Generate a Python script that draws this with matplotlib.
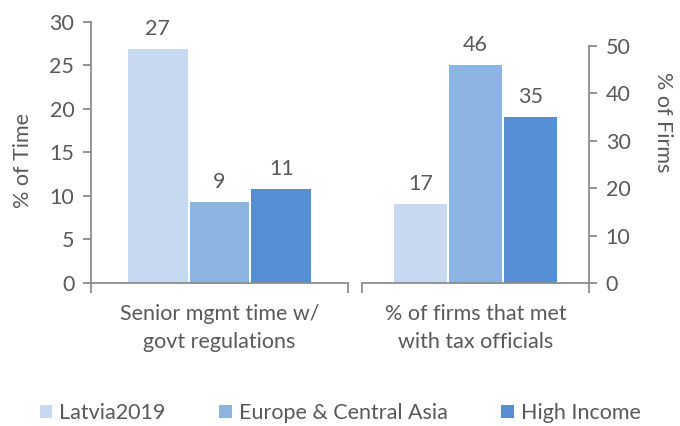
import matplotlib
matplotlib.use("Agg")
import matplotlib.pyplot as plt
from matplotlib.patches import Patch

plt.rcParams['font.family'] = ['Lato', 'DejaVu Sans']

series = ["Latvia2019", "Europe & Central Asia", "High Income"]
colors = ["#C6D9F0", "#8DB3E2", "#558ED5"]
cat_left = "Senior mgmt time w/\ngovt regulations"
cat_right = "% of firms that met\nwith tax officials"
vals_left = [26.9, 9.3, 10.8]
vals_right = [16.6, 45.9, 35.0]
labels_left = ["27", "9", "11"]
labels_right = ["17", "46", "35"]
left_ticks = [0, 5, 10, 15, 20, 25, 30]
right_ticks = [0, 10, 20, 30, 40, 50]

txt = "#595959"
axc = "#8C8C8C"
fs = 15.5

W, H = 680, 426
fig = plt.figure(figsize=(W / 100, H / 100), dpi=100)

def fr(x0, x1, ytop, ybot):
    return [x0 / W, (H - ybot) / H, (x1 - x0) / W, (ybot - ytop) / H]

axL = fig.add_axes(fr(91, 348, 21.7, 283))
axR = fig.add_axes(fr(362, 589, 45.7, 283))

bw = 0.233
offs = [-bw - 0.008, 0, bw + 0.008]

def draw(ax, vals, labels, ymax, ticks, cat, side):
    for i, (v, c, lab) in enumerate(zip(vals, colors, labels)):
        ax.bar(offs[i], v, width=bw, color=c, zorder=2)
        ax.annotate(lab, (offs[i], v), xytext=(0, 7), textcoords="offset points",
                    ha="center", va="bottom", fontsize=fs, color=txt)
    ax.set_xlim(-0.5, 0.5)
    ax.set_ylim(0, ymax)
    ax.set_yticks(ticks)
    ax.set_xticks([-0.5, 0.5])
    ax.set_xticklabels(["", ""])
    ax.tick_params(axis="x", direction="out", length=7, color=axc, width=1.3)
    ax.tick_params(axis="y", direction="out", length=6, color=axc, width=1.3,
                   labelsize=fs, labelcolor=txt, pad=6)
    for s in ["top", "left", "right", "bottom"]:
        ax.spines[s].set_visible(False)
    ax.spines["bottom"].set_visible(True)
    ax.spines["bottom"].set_color(axc)
    ax.spines["bottom"].set_linewidth(1.3)
    if side == "left":
        ax.spines["left"].set_visible(True)
        ax.spines["left"].set_color(axc)
        ax.spines["left"].set_linewidth(1.3)
    else:
        ax.yaxis.tick_right()
        ax.spines["right"].set_visible(True)
        ax.spines["right"].set_color(axc)
        ax.spines["right"].set_linewidth(1.3)
    ax.patch.set_alpha(0)
    x0, x1 = ax.get_position().x0, ax.get_position().x1
    fig.text((x0 + x1) / 2, (H - 328) / H, cat, ha="center", va="center",
             fontsize=fs, color=txt, linespacing=1.45)

draw(axL, vals_left, labels_left, 30, left_ticks, cat_left, "left")
draw(axR, vals_right, labels_right, 50, right_ticks, cat_right, "right")

fig.text(23 / W, (H - 160) / H, "% of Time", rotation=90, ha="center", va="center",
         fontsize=fs, color=txt)
fig.text(663 / W, (H - 122) / H, "% of Firms", rotation=270, ha="center", va="center",
         fontsize=fs, color=txt)

handles = [Patch(facecolor=c, edgecolor="none") for c in colors]
fig.legend(handles, series, loc="center", bbox_to_anchor=(0.5, (H - 413) / H),
           ncol=3, frameon=False, fontsize=fs, labelcolor=txt,
           handlelength=0.6, handleheight=0.6, handletextpad=0.3, columnspacing=2.5)

fig.savefig("out.png", dpi=100)
